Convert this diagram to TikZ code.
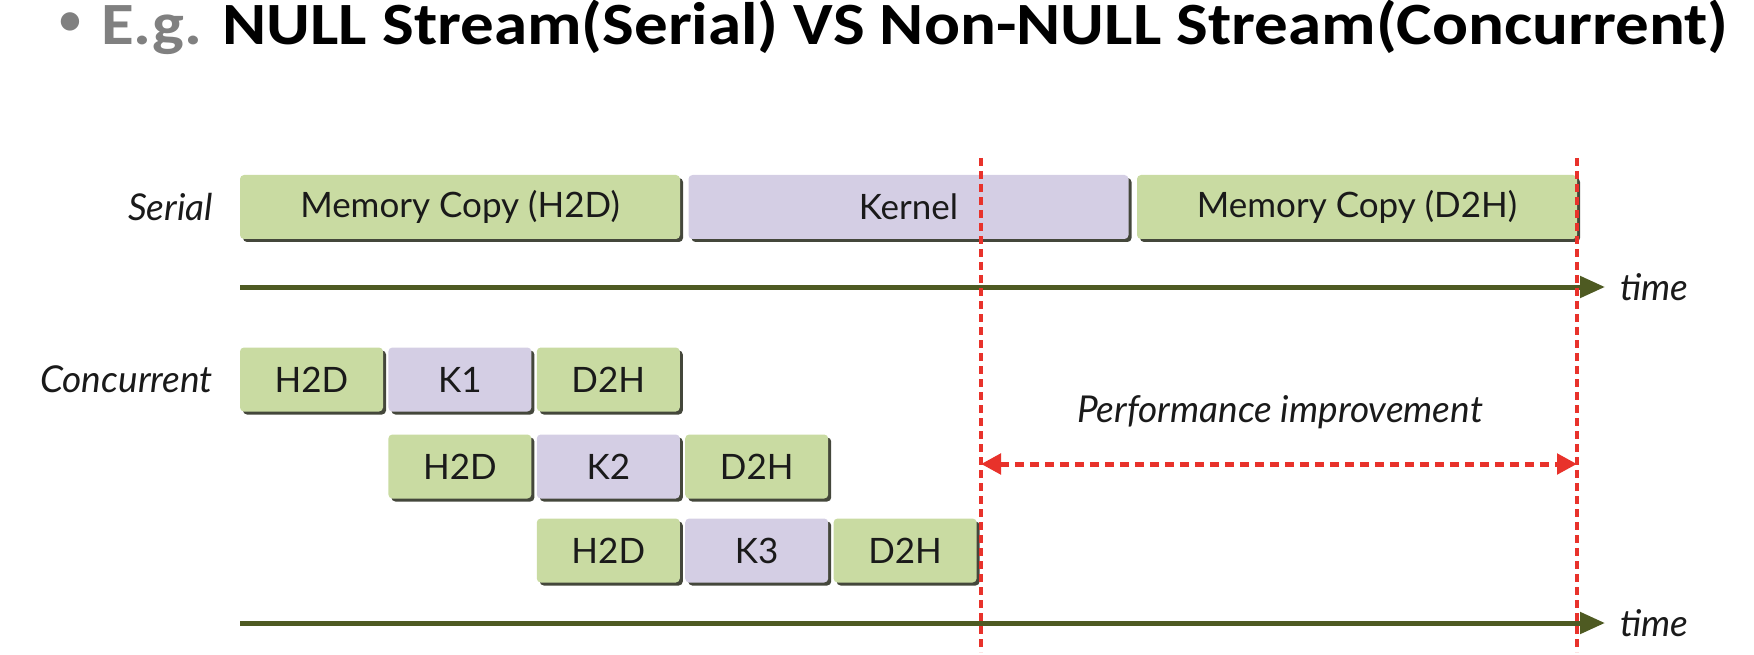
\documentclass[tikz,border=0pt]{standalone}
\usepackage{fontspec}
\setmainfont{Lato}
\newfontfamily\titlefont{Carlito}
\usetikzlibrary{arrows.meta,shadows}
\definecolor{boxgreen}{HTML}{C9DBA2}
\definecolor{boxpurple}{HTML}{D4CEE4}
\definecolor{axisgreen}{HTML}{4E5A22}
\definecolor{perfred}{HTML}{E8322B}
\definecolor{titlegray}{HTML}{808080}
\definecolor{boxtext}{HTML}{1A1A1A}
\definecolor{shadowcol}{HTML}{3A3D30}
\begin{document}
\begin{tikzpicture}[x=1pt,y=-1pt,
  blk/.style={rounded corners=4pt, minimum height=64pt, inner sep=0pt,
    font=\fontsize{35}{40}\selectfont, text=boxtext,
    drop shadow={shadow xshift=3pt, shadow yshift=-3pt, fill=shadowcol, opacity=0.95}},
  copybox/.style={blk, fill=boxgreen},
  kernbox/.style={blk, fill=boxpurple},
  wide/.style={minimum width=440pt},
  narrow/.style={minimum width=143pt},
  italictext/.style={inner sep=0pt, font=\itshape\fontsize{37}{42}\selectfont, text=boxtext},
  rowlabel/.style={italictext, anchor=east},
  timelabel/.style={italictext, anchor=west},
  timeaxis/.style={draw=axisgreen, line width=5pt, -{Triangle[length=25pt,width=21pt]}, fill=axisgreen},
  redline/.style={draw=perfred, line width=4pt, dash pattern=on 8pt off 5pt},
  perfarrow/.style={draw=perfred, line width=5pt, dash pattern=on 9pt off 6pt,
    {Triangle[length=20pt,width=20pt]}-{Triangle[length=20pt,width=20pt]}}
]
\useasboundingbox (0,0) rectangle (1754,655);

% title
\node[text=titlegray, inner sep=0pt, font=\titlefont\fontsize{52}{52}\selectfont] (bullet) at (70,25) {•};
\node[anchor=base west, inner sep=0pt] (title) at (101,45)
  {\resizebox{1627pt}{\height}{\titlefont\bfseries\fontsize{60}{60}\selectfont\textcolor{titlegray}{E.g.} NULL Stream(Serial) VS Non-NULL Stream(Concurrent)}};

% row labels
\node[rowlabel] (serial) at (213,207) {Serial};
\node[rowlabel] (concurrent) at (213,379) {Concurrent};

% serial boxes
\node[copybox, wide] (sh2d) at (460,207) {Memory Copy (H2D)};
\node[kernbox, wide] (skern) at (908.5,207) {Kernel};
\node[copybox, wide] (sd2h) at (1357,207) {Memory Copy (D2H)};

% concurrent boxes
\node[copybox, narrow] (h2da) at (311.5,379.5) {H2D};
\node[kernbox, narrow] (k1) at (459.9,379.5) {K1};
\node[copybox, narrow] (d2ha) at (608.3,379.5) {D2H};

\node[copybox, narrow] (h2db) at (459.9,466.5) {H2D};
\node[kernbox, narrow] (k2) at (608.3,466.5) {K2};
\node[copybox, narrow] (d2hb) at (756.7,466.5) {D2H};

\node[copybox, narrow] (h2dc) at (608.3,550.5) {H2D};
\node[kernbox, narrow] (k3) at (756.7,550.5) {K3};
\node[copybox, narrow] (d2hc) at (905.1,550.5) {D2H};

% time axes
\coordinate (ax1s) at (240,287);
\coordinate (ax1e) at (1605,287);
\coordinate (ax2s) at (240,623);
\coordinate (ax2e) at (1605,623);
\draw[timeaxis] (ax1s) -- (ax1e);
\draw[timeaxis] (ax2s) -- (ax2e);
\node[timelabel] (time1) at (1620,287) {time};
\node[timelabel] (time2) at (1620,623) {time};

% performance improvement
\node[italictext] (perf) at (1280,412) {Performance improvement};
\coordinate (pl) at (981,464);
\coordinate (pr) at (1577,464);
\draw[perfarrow] (pl) -- (pr);

% red dashed markers
\coordinate (r1t) at (981,158);
\coordinate (r1b) at (981,652);
\coordinate (r2t) at (1577,158);
\coordinate (r2b) at (1577,652);
\draw[redline] (r1t) -- (r1b);
\draw[redline] (r2t) -- (r2b);
\end{tikzpicture}
\end{document}
